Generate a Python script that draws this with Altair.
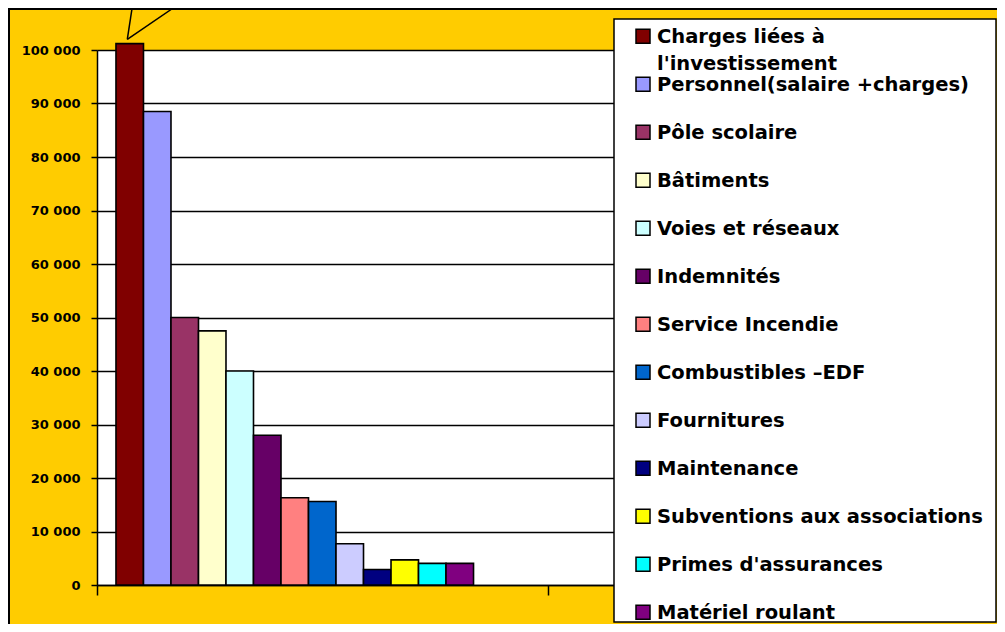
import altair as alt
import pandas as pd

names = [
    "Charges liées à l'investissement",
    "Personnel(salaire +charges)",
    "Pôle scolaire",
    "Bâtiments",
    "Voies et réseaux",
    "Indemnités",
    "Service Incendie",
    "Combustibles –EDF",
    "Fournitures",
    "Maintenance",
    "Subventions aux associations",
    "Primes d'assurances",
    "Matériel roulant",
]
legend_labels = [
    "Charges liées à\nl'investissement",
    "Personnel(salaire +charges)",
    "Pôle scolaire",
    "Bâtiments",
    "Voies et réseaux",
    "Indemnités",
    "Service Incendie",
    "Combustibles –EDF",
    "Fournitures",
    "Maintenance",
    "Subventions aux associations",
    "Primes d'assurances",
    "Matériel roulant",
]
values = [101200, 88500, 50000, 47500, 40000, 28000, 16300, 15600, 7700, 2900, 4700, 4050, 4050]
colors = ["#800000", "#9999FF", "#993366", "#FFFFCC", "#CCFFFF", "#660066", "#FF8080",
          "#0066CC", "#CCCCFF", "#000080", "#FFFF00", "#00FFFF", "#800080"]
y_ticks = [0, 10000, 20000, 30000, 40000, 50000, 60000, 70000, 80000, 90000, 100000]

df = pd.DataFrame({"name": names, "label": legend_labels, "value": values,
                   "idx": list(range(len(names)))})
one = pd.DataFrame({"k": [0]})

color = alt.Color("name:N", scale=alt.Scale(domain=names, range=colors), legend=None)

bars = alt.Chart(df).mark_bar(stroke="black", strokeWidth=1.6, strokeOpacity=1).encode(
    x=alt.X("idx:Q", title=None,
            scale=alt.Scale(domain=[-0.69, 31.96], nice=False, zero=False),
            axis=alt.Axis(values=[-0.69, 15.71], labels=False, grid=False, ticks=True,
                          tickSize=10, tickColor="black", tickWidth=1.5,
                          domainColor="black", domainWidth=1.5)),
    x2="idx_end:Q",
    y=alt.Y("value:Q", title=None,
            scale=alt.Scale(domain=[0, 100000], nice=False),
            axis=alt.Axis(values=y_ticks,
                          labelExpr="replace(format(datum.value, ','), ',', ' ')",
                          labelFont="DejaVu Sans", labelFontWeight="bold", labelFontSize=13,
                          labelColor="black", labelPadding=11, tickSize=6,
                          tickColor="black", tickWidth=1.5, domainColor="black",
                          domainWidth=1.5, grid=True, gridColor="black", gridWidth=1.5,
                          gridOpacity=1)),
    y2=alt.datum(0),
    fill=alt.Fill("name:N", scale=alt.Scale(domain=names, range=colors), legend=None),
    stroke=alt.value("black"),
    strokeWidth=alt.value(1.6),
).transform_calculate(idx_end="datum.idx + 1")

legend_box = alt.Chart(one).mark_rect(fill="white", stroke="black", strokeWidth=1.5).encode(
    x=alt.value(517), x2=alt.value(899), y=alt.value(-31), y2=alt.value(572)
)

ly = alt.Y("name:N", sort=names, axis=None,
           scale=alt.Scale(type="point", domain=names, range=[-13.7, 562.2], padding=0))

legend_sym = alt.Chart(df).mark_square(size=196, opacity=1).encode(
    x=alt.value(546), y=ly,
    fill=alt.Fill("name:N", scale=alt.Scale(domain=names, range=colors), legend=None),
    stroke=alt.value("black"),
    strokeWidth=alt.value(1.5),
)

legend_txt = alt.Chart(df).mark_text(
    align="left", baseline="alphabetic", dy=7, font="DejaVu Sans", fontWeight="bold",
    fontSize=19.5, lineBreak="\n", lineHeight=27, color="black"
).encode(x=alt.value(560), y=ly, text="label:N")

border = alt.Chart(one).mark_rect(fill="transparent", stroke="black", strokeWidth=2).encode(
    x=alt.value(-88), x2=alt.value(920), y=alt.value(-41), y2=alt.value(640)
)

callout1 = alt.Chart(one).mark_rule(color="black", strokeWidth=1.5).encode(
    x=alt.value(30.3), y=alt.value(-10.7), x2=alt.value(35.1), y2=alt.value(-42)
)
callout2 = alt.Chart(one).mark_rule(color="black", strokeWidth=1.5).encode(
    x=alt.value(30.3), y=alt.value(-10.7), x2=alt.value(76.3), y2=alt.value(-42)
)

chart = alt.layer(bars, legend_box, legend_sym, legend_txt, border, callout1, callout2).resolve_scale(
    y="independent"
).properties(
    width=898, height=535,
    autosize=alt.AutoSizeParams(type="none"),
    padding={"left": 89, "top": 42, "right": 2, "bottom": 39},
    background="#FFCC00",
).configure_view(fill="white", stroke="transparent")

chart.save("out.html", embed_options={"renderer": "svg", "actions": False})
